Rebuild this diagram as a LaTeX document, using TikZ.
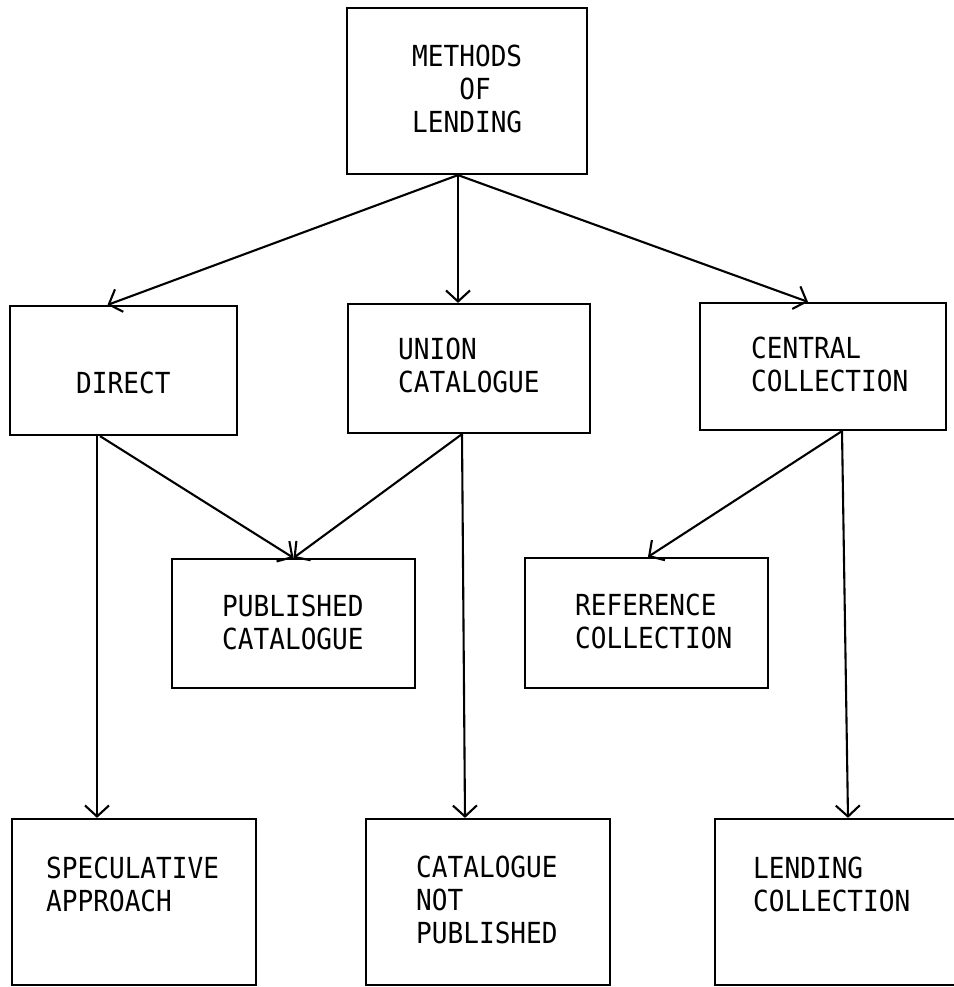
\documentclass[tikz,border=0pt]{standalone}
\usepackage{fontspec}
\newfontfamily\tw[FakeStretch=0.9]{DejaVu Sans Mono}
\usetikzlibrary{arrows.meta,calc}
\begin{document}
\begin{tikzpicture}[x=1pt,y=-1pt,
  box/.style={draw,line width=2.2pt,rectangle,inner sep=0pt},
  txt/.style={font=\tw\fontsize{29}{33}\selectfont,align=left,inner sep=0pt,anchor=west},
  arr/.style={line width=2.1pt,-{Straight Barb[length=11pt,width=24pt]}}]
\useasboundingbox (0,0) rectangle (953,987);
% boxes
\node[box,minimum width=240pt,minimum height=166pt] (m) at (467,91) {};
\node[box,minimum width=227pt,minimum height=129pt] (d) at (123.5,370.5) {};
\node[box,minimum width=242pt,minimum height=129pt] (u) at (469,368.5) {};
\node[box,minimum width=246pt,minimum height=127pt] (c) at (823,366.5) {};
\node[box,minimum width=243pt,minimum height=129pt] (p) at (293.5,623.5) {};
\node[box,minimum width=243pt,minimum height=130pt] (r) at (646.5,623) {};
\node[box,minimum width=244pt,minimum height=166pt] (s) at (134,902) {};
\node[box,minimum width=244pt,minimum height=166pt] (n) at (488,902) {};
\node[box,minimum width=260pt,minimum height=166pt] (l) at (845,902) {};
% texts
\node[txt] (mt) at (412,89) {METHODS\\\ \ \ OF\\LENDING};
\node[txt] (dt) at (76,383) {DIRECT};
\node[txt] (ut) at (398,365) {UNION\\CATALOGUE};
\node[txt] (ct) at (751,364) {CENTRAL\\COLLECTION};
\node[txt] (pt) at (222,622) {PUBLISHED\\CATALOGUE};
\node[txt] (rt) at (575,621) {REFERENCE\\COLLECTION};
\node[txt] (st) at (46,884) {SPECULATIVE\\APPROACH};
\node[txt] (nt) at (416,900) {CATALOGUE\\NOT\\PUBLISHED};
\node[txt] (lt) at (753,884) {LENDING\\COLLECTION};
% connectors
\draw[arr] ([xshift=-9pt]m.south) -- ([xshift=-16pt]d.north);
\draw[arr] ([xshift=-9pt]m.south) -- ([xshift=-11pt]u.north);
\draw[arr] ([xshift=-9pt]m.south) -- ([xshift=-15pt]c.north);
\draw[arr] ([xshift=-26.5pt]d.south) -- ([xshift=-37pt]s.north);
\draw[arr] ([xshift=-23.5pt]d.south) -- (p.north);
\draw[arr] ([xshift=-7pt]u.south) -- (p.north);
\draw[arr] ([xshift=-7pt]u.south) -- ([xshift=-23pt]n.north);
\draw[arr] ([xshift=19pt]c.south) -- ([xshift=1.5pt]r.north);
\draw[arr] ([xshift=19pt]c.south) -- ([xshift=3pt]l.north);
\end{tikzpicture}
\end{document}
